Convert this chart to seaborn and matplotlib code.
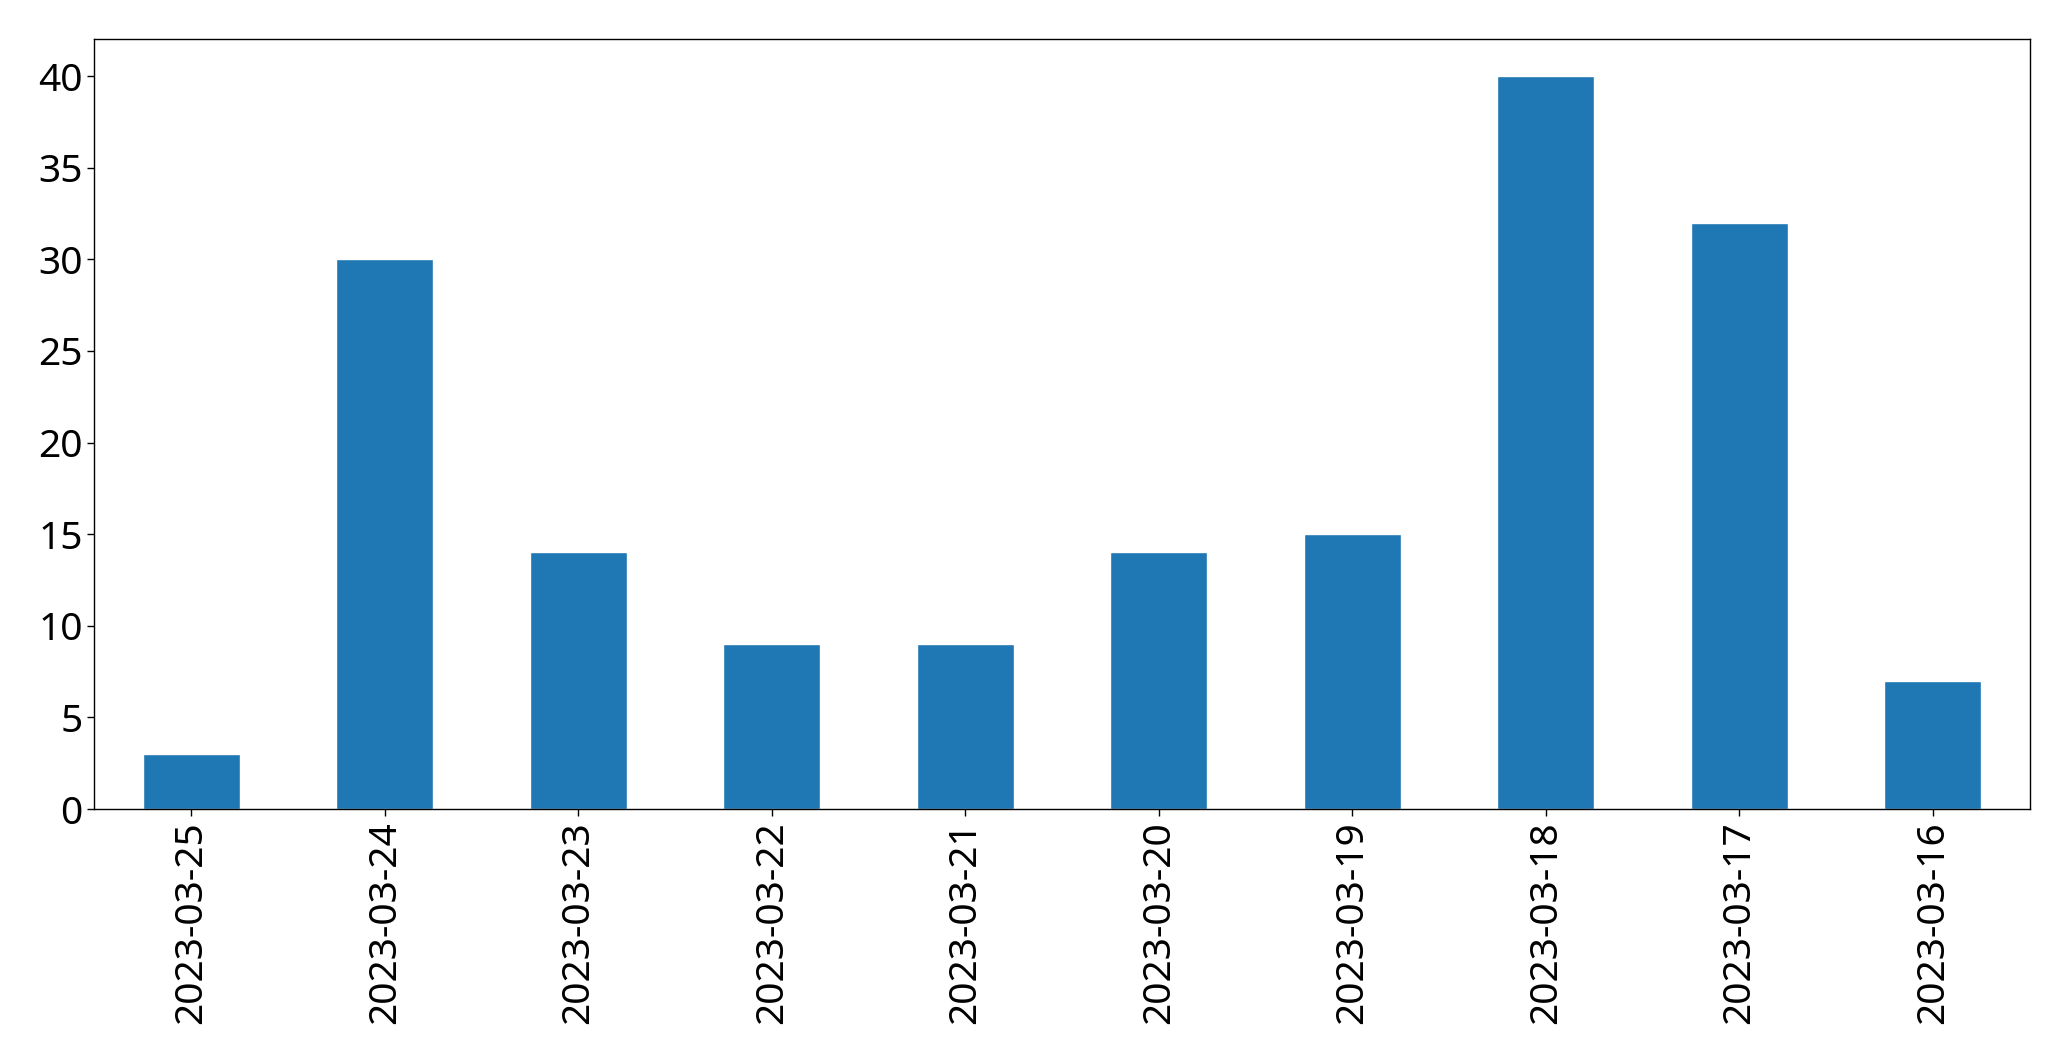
import pandas as pd
import matplotlib
matplotlib.use('Agg')
import matplotlib.pyplot as plt
import seaborn as sns

# 日付ごとの件数
dates = ['2023-03-25', '2023-03-24', '2023-03-23', '2023-03-22', '2023-03-21',
         '2023-03-20', '2023-03-19', '2023-03-18', '2023-03-17', '2023-03-16']
counts = [3, 30, 14, 9, 9, 14, 15, 40, 32, 7]

sns.set_style('ticks')
plt.rcParams['font.family'] = ['Noto Sans', 'DejaVu Sans']
plt.rcParams['text.color'] = 'black'
plt.rcParams['xtick.color'] = 'black'
plt.rcParams['ytick.color'] = 'black'

df = pd.DataFrame({'date': dates, 'count': counts})

fig, ax = plt.subplots(figsize=(20.71, 10.61), dpi=100)
fig.subplots_adjust(left=0.0456, right=0.980, top=0.9628, bottom=0.2375)

sns.barplot(data=df, x='date', y='count', order=dates, color='#1f77b4',
            saturation=1, width=0.5, ax=ax)

ax.set_xlim(-0.5, len(dates) - 0.5)
ax.set_ylim(0, 42)
ax.set_xlabel('')
ax.set_ylabel('')
ax.tick_params(axis='x', labelrotation=90, labelsize=28, length=5, width=1,
               color='black', labelcolor='black')
ax.tick_params(axis='y', labelsize=28, length=5, width=1,
               color='black', labelcolor='black')
for spine in ax.spines.values():
    spine.set_visible(True)
    spine.set_color('black')
    spine.set_linewidth(1)

fig.savefig('out.png', dpi=100)
